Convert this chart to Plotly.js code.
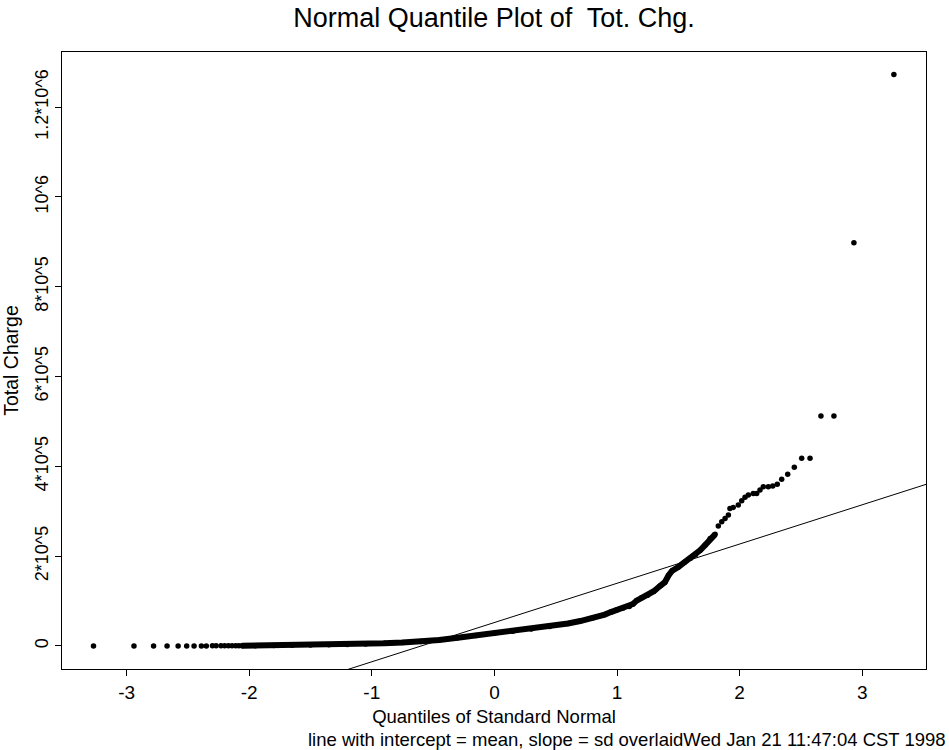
<!DOCTYPE html>
<html>
<head>
<meta charset="utf-8">
<script src="https://cdn.plot.ly/plotly-3.0.1.min.js"></script>
<style>
  html, body { margin: 0; padding: 0; background: #fff; }
  #chart { width: 949px; height: 750px; }
</style>
</head>
<body>
<div id="chart"></div>
<script>
// ---- Data ----
// Left tail (individual points, quantile of standard normal vs total charge)
var lowTailX = [-3.27, -2.94, -2.78, -2.67, -2.58, -2.51, -2.45, -2.39, -2.35, -2.30, -2.27, -2.23, -2.20, -2.17, -2.14, -2.11, -2.085];
var lowTailY = [50, 100, 120, 140, 150, 160, 170, 180, 190, 200, 210, 220, 230, 240, 250, 260, 280];

// Dense central band (points overlap into a continuous band)
var bandX = [-2.06, -1.95, -1.8, -1.65, -1.5, -1.35, -1.2, -1.05, -0.9, -0.75, -0.6, -0.45, -0.3, -0.15, 0.0,
             0.15, 0.3, 0.45, 0.6, 0.7, 0.8, 0.9, 0.95, 1.0, 1.05, 1.1, 1.13, 1.16, 1.2, 1.25, 1.3, 1.35,
             1.39, 1.42, 1.45, 1.5, 1.55, 1.6, 1.64, 1.68, 1.72, 1.76, 1.80];
var bandY = [300, 600, 900, 1400, 2000, 2700, 3500, 4500, 5800, 7500, 9800, 13500, 18500, 23500, 28500,
             33000, 38000, 43500, 50000, 55500, 62000, 70000, 75500, 80500, 84500, 88000, 93500, 101000, 107500, 113000, 122000, 133500,
             142000, 157000, 167500, 176000, 186500, 195500, 203000, 213500, 225000, 239500, 248500];

// Right tail (individual points)
var highTailX = [1.826, 1.854, 1.881, 1.908, 1.921, 1.948, 1.989, 2.017, 2.044, 2.071, 2.111, 2.139, 2.166, 2.193,
                 2.234, 2.270, 2.307, 2.343, 2.392, 2.446, 2.506, 2.574, 2.663, 2.769, 2.932, 3.258];
var highTailY = [266900, 276500, 284000, 291400, 306300, 308600, 313700, 323300, 330900, 336000, 339800, 339800, 347100, 354500,
                 354500, 356100, 359900, 371000, 382200, 397800, 417800, 417800, 512100, 512100, 897800, 1272400];

// Reference line: intercept = mean, slope = sd
var lineIntercept = 52200;   // mean
var lineSlope = 87400;       // sd

// Axes
var xRange = [-3.527, 3.52];
var yRange = [-51300, 1322700];
var xTickVals = [-3, -2, -1, 0, 1, 2, 3];
var xTickText = ["-3", "-2", "-1", "0", "1", "2", "3"];
var yTickVals = [0, 200000, 400000, 600000, 800000, 1000000, 1200000];
var yTickText = ["0", "2*10^5", "4*10^5", "6*10^5", "8*10^5", "10^6", "1.2*10^6"];

// ---- Build traces ----
var allX = lowTailX.concat(bandX, highTailX);
var allY = lowTailY.concat(bandY, highTailY);

var lineX = xRange.slice();
var lineY = lineX.map(function (q) { return lineIntercept + lineSlope * q; });

var FONT = "Liberation Sans, Arial, Helvetica, sans-serif";

var traces = [
  {
    x: bandX, y: bandY, type: "scatter", mode: "lines",
    line: { color: "#000", width: 6, shape: "linear" },
    hoverinfo: "skip", showlegend: false
  },
  {
    x: allX, y: allY, type: "scatter", mode: "markers",
    marker: { color: "#000", size: 5.5, symbol: "circle" },
    showlegend: false
  },
  {
    x: lineX, y: lineY, type: "scatter", mode: "lines",
    line: { color: "#000", width: 1 },
    showlegend: false
  }
];

var layout = {
  width: 949, height: 750,
  margin: { l: 62, r: 23, t: 52, b: 81 },
  paper_bgcolor: "#fff", plot_bgcolor: "#fff",
  font: { family: FONT, color: "#000" },
  showlegend: false,
  title: {
    text: "Normal Quantile Plot of  Tot. Chg.",
    font: { family: FONT, size: 27, color: "#000" },
    x: 0.5, xref: "paper", xanchor: "center",
    y: 0.977, yref: "container", yanchor: "middle"
  },
  xaxis: {
    range: xRange, tickvals: xTickVals, ticktext: xTickText,
    ticks: "outside", ticklen: 6, tickwidth: 1, tickcolor: "#000",
    showline: true, linecolor: "#000", linewidth: 1.3, mirror: true,
    showgrid: false, zeroline: false,
    tickfont: { family: FONT, size: 19, color: "#000" },
    title: { text: "Quantiles of Standard Normal", font: { family: FONT, size: 18.5, color: "#000" }, standoff: 8 }
  },
  yaxis: {
    range: yRange, tickvals: yTickVals, ticktext: yTickText, tickangle: -90,
    ticks: "outside", ticklen: 6, tickwidth: 1, tickcolor: "#000",
    showline: true, linecolor: "#000", linewidth: 1.3, mirror: true,
    showgrid: false, zeroline: false,
    tickfont: { family: FONT, size: 18, color: "#000" },
    title: { text: "Total Charge", font: { family: FONT, size: 19.5, color: "#000" }, standoff: 7 }
  },
  annotations: [
    {
      text: "line with intercept = mean, slope = sd overlaidWed Jan 21 11:47:04 CST 1998",
      xref: "paper", yref: "paper", x: 1.0255, y: -0.1135,
      xanchor: "right", yanchor: "middle", showarrow: false,
      font: { family: FONT, size: 18.5, color: "#000" }
    }
  ]
};

Plotly.newPlot("chart", traces, layout, { staticPlot: true, displayModeBar: false });
</script>
</body>
</html>
